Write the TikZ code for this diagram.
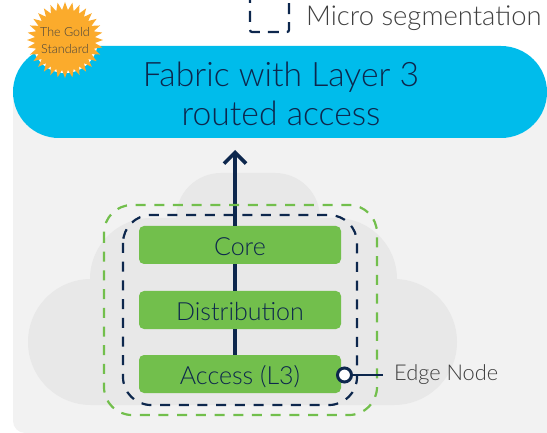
\documentclass[tikz,border=0pt]{standalone}
\usepackage{fontspec}
\setmainfont{Lato Light}
\usetikzlibrary{arrows.meta}
\definecolor{navy}{HTML}{0D274D}
\definecolor{skyb}{HTML}{00BCEB}
\definecolor{panelg}{HTML}{F2F2F2}
\definecolor{cloudg}{HTML}{E8E8E8}
\definecolor{barg}{HTML}{72BF4C}
\definecolor{gold}{HTML}{FBAB2C}
\definecolor{txtg}{HTML}{3F3F3F}
\tikzset{
  layerbar/.style={fill=barg,rounded corners=5pt,minimum width=202pt,minimum height=38pt,inner sep=0pt,text=navy,text height=20pt,text depth=0pt,font=\fontsize{25}{27}\selectfont},
  zone/.style={rounded corners=28pt,line width=2.2pt,dash pattern=on 10pt off 8.7pt},
  graytext/.style={text=txtg,inner sep=0pt,anchor=base west},
  flow/.style={draw=navy,line width=3.6pt}
}
\begin{document}
\begin{tikzpicture}[x=1pt,y=-1pt]
\useasboundingbox (0,0) rectangle (547,433);
\begin{scope}
\clip (0,0) rectangle (547,433);
% panel
\fill[panelg,rounded corners=12pt] (13,90) rectangle (570,433);
% cloud
\fill[cloudg] (91,405) arc[start angle=90,end angle=270,radius=63] -- (90,279)
  arc[start angle=180,end angle=270,radius=61] -- (176,218)
  arc[start angle=180,end angle=270,radius=45] -- (275,173)
  arc[start angle=270,end angle=360,radius=45] -- (336,218)
  arc[start angle=270,end angle=360,radius=61] -- (394,279)
  arc[start angle=270,end angle=450,radius=63] -- cycle;
\end{scope}
% pill
\node[fill=skyb,rounded corners=46pt,minimum width=534pt,minimum height=92pt,inner sep=0pt] (fabric) at (280,92) {};
\node[align=center,inner sep=0pt,text=navy,font=\fontsize{33.7}{39}\selectfont] (fabrictext) at (281,94) {Fabric with Layer 3\\routed access};
% arrow target
\coordinate (tip) at (235,150);
% bars
\node[layerbar] (core) at (240,245) {Core};
\node[layerbar] (dist) at (240,310) {Distribution};
\node[layerbar] (acc) at (240,374) {Access (L3)};
% flow
\draw[flow] (acc.north -| tip) -- (dist.south -| tip);
\draw[flow] (dist.north -| tip) -- (core.south -| tip);
\draw[flow,-{Straight Barb[length=11pt,width=22pt,line width=3.6pt]}] (core.north -| tip) -- (tip);
% zones
\draw[zone,draw=barg] (104,205) rectangle (377,415);
\draw[zone,draw=navy] (123,215) rectangle (357,405);
% edge node
\coordinate (edgeend) at (383,375);
\node[circle,fill=white,draw=navy,line width=3pt,minimum size=14pt,inner sep=0pt] (edge) at (344.5,375) {};
\draw[navy,line width=1.6pt] (edge) -- (edgeend);
\node[graytext,font=\fontsize{21.8}{24}\selectfont] (edgelabel) at (394,381) {Edge Node};
% legend
\draw[navy,line width=2.2pt,rounded corners=2pt,dash pattern=on 11pt off 8pt] (250,-8) -- (250,32) -- (289,32) -- (289,-8);
\node[graytext,font=\fontsize{27.4}{29}\selectfont] (legend) at (306,26) {Micro segmentation};
% burst
\fill[white] (65,40) circle[radius=33];
\fill[gold] plot[samples at={0,...,63}] ({65+cos(\x*5.625)*(mod(\x,2)==0?38:30)},{40+sin(\x*5.625)*(mod(\x,2)==0?38:30)}) -- cycle;
\node[text=txtg,align=center,inner sep=0pt,font=\fontsize{12.5}{17}\selectfont] (gold) at (65,41) {The Gold\\Standard};
\end{tikzpicture}
\end{document}
